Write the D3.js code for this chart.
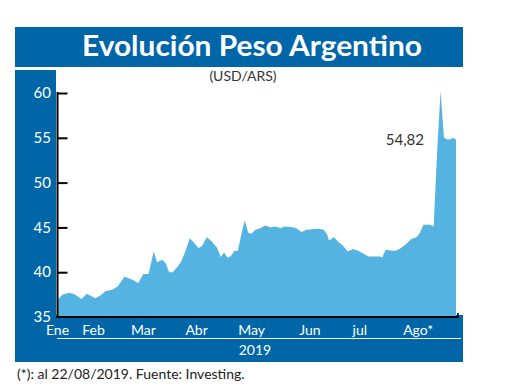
<!DOCTYPE html>
<html>
<head>
<meta charset="utf-8">
<script src="https://cdn.jsdelivr.net/npm/d3@7"></script>
<style>
  body { margin: 0; background: #fff; }
  text { font-family: Lato, "Open Sans", sans-serif; }
</style>
</head>
<body>
<div class="chart"></div>
<script>
var svgWidth = 520;
var svgHeight = 390;

// daily USD/ARS close
var dates = [
  "2019-01-02", "2019-01-05", "2019-01-09", "2019-01-12", "2019-01-16", "2019-01-19",
  "2019-01-24", "2019-01-27", "2019-01-30", "2019-02-03", "2019-02-06", "2019-02-10",
  "2019-02-14", "2019-02-18", "2019-02-21", "2019-02-24", "2019-02-27", "2019-03-01",
  "2019-03-04", "2019-03-06", "2019-03-08", "2019-03-10", "2019-03-13", "2019-03-15",
  "2019-03-17", "2019-03-20", "2019-03-22", "2019-03-25", "2019-03-27", "2019-03-30",
  "2019-04-02", "2019-04-05", "2019-04-07", "2019-04-09", "2019-04-11", "2019-04-13",
  "2019-04-15", "2019-04-17", "2019-04-19", "2019-04-21", "2019-04-23", "2019-04-25",
  "2019-04-27", "2019-04-30", "2019-05-03", "2019-05-06", "2019-05-09", "2019-05-12",
  "2019-05-14", "2019-05-18", "2019-05-21", "2019-05-24", "2019-05-27", "2019-05-30",
  "2019-06-03", "2019-06-06", "2019-06-08", "2019-06-09", "2019-06-12", "2019-06-15",
  "2019-06-17", "2019-06-20", "2019-06-23", "2019-06-26", "2019-06-29", "2019-07-02",
  "2019-07-06", "2019-07-09", "2019-07-10", "2019-07-12", "2019-07-16", "2019-07-18",
  "2019-07-21", "2019-07-24", "2019-07-27", "2019-07-30", "2019-08-01", "2019-08-03",
  "2019-08-05", "2019-08-07", "2019-08-09", "2019-08-11", "2019-08-13", "2019-08-15",
  "2019-08-17", "2019-08-19", "2019-08-20", "2019-08-22"
];
var values = [
  36.9, 37.5, 37.7, 37.5, 37.0, 37.6,
  37.1, 37.4, 37.9, 38.05, 38.4, 39.5,
  39.2, 38.8, 39.8, 39.8, 42.3, 41.1,
  41.4, 41.0, 40.0, 40.0, 40.65, 41.2,
  42.1, 43.8, 43.4, 42.7, 42.9, 43.9,
  43.4, 42.7, 41.7, 42.2, 41.6, 41.8,
  42.4, 42.4, 44.2, 45.8, 44.4, 44.3,
  44.7, 44.9, 45.2, 45.0, 45.1, 44.9,
  45.1, 45.05, 44.9, 44.5, 44.75, 44.8,
  44.85, 44.75, 44.2, 43.55, 43.9, 43.3,
  43.0, 42.3, 42.6, 42.4, 42.1, 41.75,
  41.75, 41.75, 41.6, 42.5, 42.4, 42.4,
  42.7, 43.15, 43.7, 43.9, 44.4, 45.3,
  45.3, 45.3, 45.1, 53.4, 60.2, 55.0,
  54.8, 54.85, 55.0, 54.82
];

var yTicks = [35, 40, 45, 50, 55, 60];
var monthLabels = ["Ene", "Feb", "Mar", "Abr", "May", "Jun", "jul", "Ago*"];
var monthLabelDates = ["2019-01-02", "2019-01-23", "2019-02-21", "2019-03-24",
  "2019-04-25", "2019-05-29", "2019-06-27", "2019-07-31"];
var lastLabel = "54,82";

var parseDate = d3.timeParse("%Y-%m-%d");
var data = dates.map(function(d, i) {
  return { date: parseDate(d), value: values[i] };
});

var blue = "#0066a8";
var areaColor = "#55b3e2";

var svg = d3.select(".chart")
  .append("svg")
  .attr("width", svgWidth)
  .attr("height", svgHeight);

// scales
var xScale = d3.scaleTime()
  .domain(d3.extent(data, d => d.date))
  .range([57.5, 456]);

var yScale = d3.scaleLinear()
  .domain([35, 60])
  .range([317, 93]);

// blue frame pieces
svg.append("rect")
  .attr("x", 15).attr("y", 27)
  .attr("width", 448).attr("height", 40)
  .attr("fill", blue);

svg.append("rect")
  .attr("x", 15).attr("y", 70)
  .attr("width", 41).attr("height", 292)
  .attr("fill", blue);

svg.append("rect")
  .attr("x", 15).attr("y", 315)
  .attr("width", 448).attr("height", 47)
  .attr("fill", blue);

// title
svg.append("text")
  .attr("x", 82)
  .attr("y", 56)
  .attr("textLength", 340)
  .attr("lengthAdjust", "spacingAndGlyphs")
  .attr("fill", "#fff")
  .style("font-size", "28px")
  .style("font-weight", "bold")
  .text("Evolución Peso Argentino");

svg.append("text")
  .attr("x", 243)
  .attr("y", 81)
  .attr("text-anchor", "middle")
  .attr("fill", "#333")
  .style("font-size", "14px")
  .text("(USD/ARS)");

// area
var area = d3.area()
  .x(d => xScale(d.date))
  .y0(yScale(35))
  .y1(d => yScale(d.value));

svg.append("path")
  .datum(data)
  .attr("d", area)
  .attr("fill", areaColor);

// y axis
var leftAxis = d3.axisRight(yScale)
  .tickValues(yTicks.filter(t => t > 35))
  .tickSize(10)
  .tickFormat("");

var yAxis = svg.append("g")
  .attr("transform", `translate(${xScale.range()[0]}, 0)`)
  .call(leftAxis);

yAxis.select(".domain").remove();
yAxis.selectAll("line")
  .attr("stroke", "#000")
  .attr("stroke-width", 2);

svg.append("line")
  .attr("x1", xScale.range()[0]).attr("x2", xScale.range()[0])
  .attr("y1", yScale(60) - 1).attr("y2", yScale(35) + 1)
  .attr("stroke", "#000").attr("stroke-width", 2);

svg.append("line")
  .attr("x1", xScale.range()[0] - 1).attr("x2", xScale.range()[1] + 2)
  .attr("y1", yScale(35)).attr("y2", yScale(35))
  .attr("stroke", "#000").attr("stroke-width", 2);

svg.append("line")
  .attr("x1", xScale.range()[1] + 2).attr("x2", xScale.range()[1] + 2)
  .attr("y1", yScale(35) - 4).attr("y2", yScale(35) + 1)
  .attr("stroke", "#000").attr("stroke-width", 1.5);

// y labels
svg.selectAll(".ylab")
  .data(yTicks)
  .enter()
  .append("text")
  .attr("x", 51)
  .attr("y", d => yScale(d))
  .attr("dy", "0.35em")
  .attr("text-anchor", "end")
  .attr("fill", "#fff")
  .style("font-size", "15px")
  .text(d => d);

// month labels
svg.selectAll(".mlab")
  .data(monthLabels)
  .enter()
  .append("text")
  .attr("x", (d, i) => xScale(parseDate(monthLabelDates[i])))
  .attr("y", 335)
  .attr("text-anchor", "middle")
  .attr("fill", "#fff")
  .style("font-size", "14px")
  .text(d => d);

svg.append("line")
  .attr("x1", 57).attr("x2", 461)
  .attr("y1", 338.5).attr("y2", 338.5)
  .attr("stroke", "#fff").attr("stroke-width", 1);

svg.append("text")
  .attr("x", 255)
  .attr("y", 355)
  .attr("text-anchor", "middle")
  .attr("fill", "#fff")
  .style("font-size", "14px")
  .text("2019");

// last value label
var last = data[data.length - 1];
svg.append("text")
  .attr("x", xScale(last.date) - 32)
  .attr("y", yScale(last.value))
  .attr("dy", "0.35em")
  .attr("text-anchor", "end")
  .attr("fill", "#333")
  .style("font-size", "15px")
  .text(lastLabel);

// footnote
svg.append("text")
  .attr("x", 17)
  .attr("y", 379)
  .attr("fill", "#222")
  .style("font-size", "14px")
  .text("(*): al 22/08/2019. Fuente: Investing.");
</script>
</body>
</html>
